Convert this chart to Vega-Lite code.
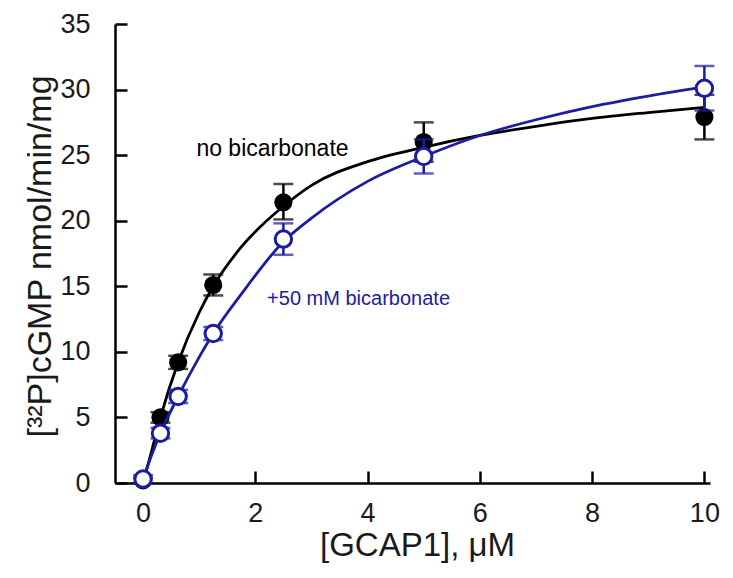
{
  "$schema": "https://vega.github.io/schema/vega-lite/v6.json",
  "autosize": "none",
  "padding": {"left": 115, "top": 24, "right": 23, "bottom": 95},
  "width": 595,
  "height": 459,
  "background": "white",
  "datasets": {
    "curves": [
      {"x": 0, "y": 0, "series": "none"},
      {"x": 0.15, "y": 2.4, "series": "none"},
      {"x": 0.31, "y": 5.0, "series": "none"},
      {"x": 0.625, "y": 9.2, "series": "none"},
      {"x": 1.0, "y": 13.0, "series": "none"},
      {"x": 1.25, "y": 15.0, "series": "none"},
      {"x": 1.75, "y": 18.0, "series": "none"},
      {"x": 2.5, "y": 21.1, "series": "none"},
      {"x": 3, "y": 22.7, "series": "none"},
      {"x": 4, "y": 24.5, "series": "none"},
      {"x": 5, "y": 25.6, "series": "none"},
      {"x": 6, "y": 26.5, "series": "none"},
      {"x": 7, "y": 27.2, "series": "none"},
      {"x": 8, "y": 27.8, "series": "none"},
      {"x": 9, "y": 28.25, "series": "none"},
      {"x": 10, "y": 28.65, "series": "none"},
      {"x": 0, "y": 0.3, "series": "bicarb"},
      {"x": 0.15, "y": 2.1, "series": "bicarb"},
      {"x": 0.31, "y": 3.8, "series": "bicarb"},
      {"x": 0.625, "y": 6.6, "series": "bicarb"},
      {"x": 1.0, "y": 9.6, "series": "bicarb"},
      {"x": 1.25, "y": 11.4, "series": "bicarb"},
      {"x": 1.75, "y": 14.4, "series": "bicarb"},
      {"x": 2.5, "y": 18.4, "series": "bicarb"},
      {"x": 3, "y": 20.2, "series": "bicarb"},
      {"x": 4, "y": 23.0, "series": "bicarb"},
      {"x": 5, "y": 24.9, "series": "bicarb"},
      {"x": 6, "y": 26.5, "series": "bicarb"},
      {"x": 7, "y": 27.7, "series": "bicarb"},
      {"x": 8, "y": 28.7, "series": "bicarb"},
      {"x": 9, "y": 29.5, "series": "bicarb"},
      {"x": 10, "y": 30.2, "series": "bicarb"}
    ],
    "points": [
      {"x": 0, "y": 0.2, "lo": 0.0, "hi": 0.4, "series": "none"},
      {"x": 0.31, "y": 5.0, "lo": 4.6, "hi": 5.4, "series": "none"},
      {"x": 0.625, "y": 9.2, "lo": 8.7, "hi": 9.7, "series": "none"},
      {"x": 1.25, "y": 15.1, "lo": 14.3, "hi": 15.9, "series": "none"},
      {"x": 2.5, "y": 21.4, "lo": 20.1, "hi": 22.8, "series": "none"},
      {"x": 5, "y": 26.0, "lo": 24.5, "hi": 27.5, "series": "none"},
      {"x": 10, "y": 27.9, "lo": 26.2, "hi": 29.6, "series": "none"},
      {"x": 0, "y": 0.3, "lo": 0.0, "hi": 0.6, "series": "bicarb"},
      {"x": 0.31, "y": 3.8, "lo": 3.4, "hi": 4.2, "series": "bicarb"},
      {"x": 0.625, "y": 6.6, "lo": 6.1, "hi": 7.1, "series": "bicarb"},
      {"x": 1.25, "y": 11.4, "lo": 10.9, "hi": 11.9, "series": "bicarb"},
      {"x": 2.5, "y": 18.6, "lo": 17.4, "hi": 19.8, "series": "bicarb"},
      {"x": 5, "y": 24.9, "lo": 23.6, "hi": 26.2, "series": "bicarb"},
      {"x": 10, "y": 30.1, "lo": 28.4, "hi": 31.8, "series": "bicarb"}
    ],
    "labels": [
      {"x": 0.95, "y": 24.9, "label": "no bicarbonate", "series": "none", "size": 23},
      {"x": 2.21, "y": 13.6, "label": "+50 mM bicarbonate", "series": "bicarb", "size": 20}
    ]
  },
  "encoding": {
    "x": {
      "field": "x",
      "type": "quantitative",
      "scale": {"domain": [-0.5, 10.1], "nice": false, "zero": false},
      "axis": {
        "values": [0, 2, 4, 6, 8, 10],
        "title": "[GCAP1], μM",
        "titleX": 302,
        "titleY": 72,
        "titleAlign": "center",
        "titleBaseline": "alphabetic",
        "titleFontSize": 33,
        "labelPadding": 29
      }
    },
    "y": {
      "field": "y",
      "type": "quantitative",
      "scale": {"domain": [0, 35], "nice": false},
      "axis": {
        "values": [0, 5, 10, 15, 20, 25, 30, 35],
        "title": "[³²P]cGMP nmol/min/mg",
        "titleX": -65,
        "titleY": 232,
        "titleAngle": -90,
        "titleAlign": "center",
        "titleBaseline": "alphabetic",
        "titleFontSize": 34,
        "labelPadding": 37
      }
    },
    "color": {
      "field": "series",
      "type": "nominal",
      "scale": {"domain": ["none", "bicarb"], "range": ["#000000", "#1c1ca0"]},
      "legend": null
    }
  },
  "layer": [
    {
      "data": {"name": "points"},
      "transform": [{"filter": "datum.series === 'none'"}],
      "mark": {"type": "errorbar", "ticks": {"size": 20, "thickness": 2.5}, "rule": {"strokeWidth": 2.5}},
      "encoding": {
        "y": {"field": "lo", "type": "quantitative"},
        "y2": {"field": "hi"}
      }
    },
    {
      "data": {"name": "curves"},
      "transform": [{"filter": "datum.series === 'none'"}],
      "mark": {"type": "line", "interpolate": "monotone", "strokeWidth": 2.8},
      "encoding": {}
    },
    {
      "data": {"name": "points"},
      "transform": [{"filter": "datum.series === 'none'"}],
      "mark": {"type": "circle", "size": 330, "opacity": 1},
      "encoding": {}
    },
    {
      "data": {"name": "points"},
      "transform": [{"filter": "datum.series === 'bicarb'"}],
      "mark": {"type": "errorbar", "ticks": {"size": 20, "thickness": 2.5}, "rule": {"strokeWidth": 2.5}},
      "encoding": {
        "y": {"field": "lo", "type": "quantitative"},
        "y2": {"field": "hi"}
      }
    },
    {
      "data": {"name": "curves"},
      "transform": [{"filter": "datum.series === 'bicarb'"}],
      "mark": {"type": "line", "interpolate": "monotone", "strokeWidth": 2.8},
      "encoding": {}
    },
    {
      "data": {"name": "points"},
      "transform": [{"filter": "datum.series === 'bicarb'"}],
      "mark": {"type": "point", "shape": "circle", "size": 270, "filled": false, "fill": "white", "fillOpacity": 1, "strokeWidth": 3, "opacity": 1},
      "encoding": {"stroke": {"field": "series", "type": "nominal", "scale": {"domain": ["none", "bicarb"], "range": ["#000000", "#1c1ca0"]}, "legend": null}, "color": {"value": null}}
    },
    {
      "data": {"name": "labels"},
      "mark": {"type": "text", "align": "left", "baseline": "alphabetic", "font": "Liberation Sans"},
      "encoding": {
        "text": {"field": "label"},
        "size": {"field": "size", "type": "quantitative", "scale": null}
      }
    }
  ],
  "config": {
    "font": "Liberation Sans",
    "view": {"stroke": null},
    "axis": {
      "grid": false,
      "domainColor": "#000000",
      "domainWidth": 2.5,
      "tickColor": "#000000",
      "tickWidth": 2.5,
      "tickSize": -12,
      "labelFont": "Liberation Sans",
      "labelFontSize": 27,
      "labelColor": "#1a1a1a",
      "titleFont": "Liberation Sans",
      "titleFontWeight": "normal",
      "titleColor": "#1a1a1a"
    }
  }
}
